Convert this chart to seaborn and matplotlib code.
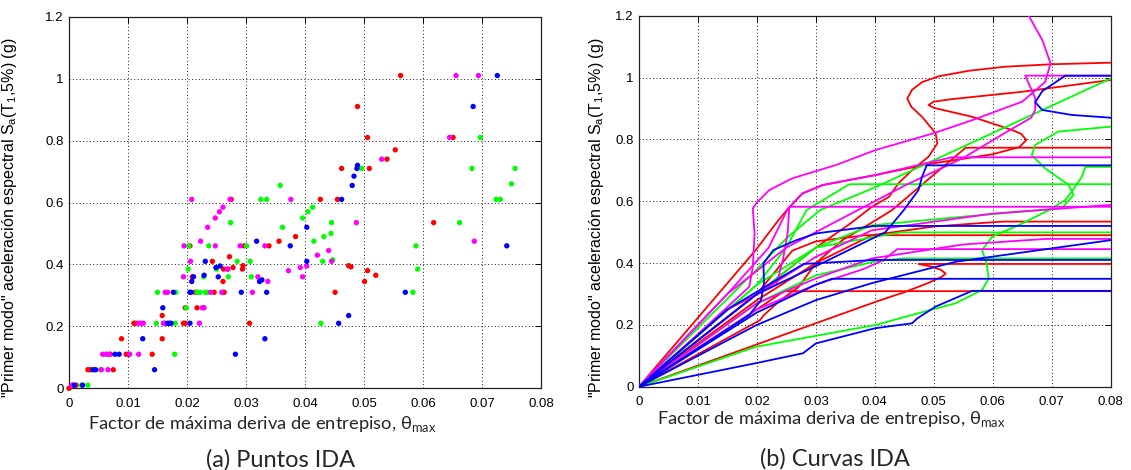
import numpy as np
import pandas as pd
import matplotlib
matplotlib.use("Agg")
import matplotlib.pyplot as plt
import seaborn as sns

# ---------------- data: (a) IDA points ----------------
red_pts_x = [0.0, 0.0007, 0.0012, 0.0032, 0.0036, 0.0075, 0.0070, 0.0097, 0.0101, 0.0141, 0.0089, 0.0158,
             0.0110, 0.0113, 0.0194, 0.0197, 0.0306, 0.0158, 0.0197, 0.0217, 0.0214, 0.0217, 0.0246, 0.0261,
             0.0263, 0.0451, 0.0261, 0.0501, 0.0209, 0.0520, 0.0262, 0.0269, 0.0278, 0.0294, 0.0506, 0.0295,
             0.0474, 0.0478, 0.0243, 0.0272, 0.0205, 0.0297, 0.0339, 0.0356, 0.0384, 0.0618, 0.0275, 0.0426,
             0.0455, 0.0462, 0.0509, 0.0539, 0.0553, 0.0506, 0.0651, 0.0489, 0.0562]
red_pts_y = [0.0, 0.01, 0.01, 0.06, 0.06, 0.06, 0.11, 0.11, 0.11, 0.11, 0.16, 0.16,
             0.21, 0.21, 0.21, 0.21, 0.21, 0.235, 0.26, 0.26, 0.31, 0.31, 0.31, 0.31,
             0.31, 0.31, 0.345, 0.345, 0.36, 0.365, 0.385, 0.385, 0.39, 0.385, 0.38, 0.396,
             0.396, 0.392, 0.41, 0.425, 0.46, 0.46, 0.46, 0.475, 0.49, 0.535, 0.61, 0.61,
             0.61, 0.71, 0.71, 0.74, 0.77, 0.81, 0.81, 0.91, 1.01]

blue_pts_x = [0.0009, 0.0023, 0.0041, 0.0045, 0.0145, 0.0078, 0.0085, 0.0282, 0.0125, 0.0332, 0.0167, 0.0170,
              0.0173, 0.0205, 0.0457, 0.0474, 0.0159, 0.0177, 0.0205, 0.0207, 0.0292, 0.0335, 0.0570, 0.0208,
              0.0323, 0.0211, 0.0253, 0.0327, 0.0229, 0.0249, 0.0256, 0.0231, 0.0403, 0.0375, 0.0742, 0.0318,
              0.0403, 0.0462, 0.0480, 0.0483, 0.0488, 0.0489, 0.0685, 0.0726]
blue_pts_y = [0.01, 0.01, 0.06, 0.06, 0.06, 0.11, 0.11, 0.11, 0.16, 0.16, 0.21, 0.21,
              0.21, 0.21, 0.21, 0.235, 0.26, 0.31, 0.31, 0.31, 0.31, 0.31, 0.31, 0.345,
              0.345, 0.36, 0.36, 0.35, 0.365, 0.39, 0.395, 0.41, 0.41, 0.46, 0.46, 0.475,
              0.52, 0.61, 0.655, 0.685, 0.71, 0.72, 0.91, 1.01]

green_pts_x = [0.0021, 0.0032, 0.0053, 0.0061, 0.0179, 0.0148, 0.0180, 0.0427, 0.0199, 0.0150, 0.0181, 0.0217,
               0.0222, 0.0231, 0.0235, 0.0583, 0.0228, 0.0270, 0.0309, 0.0202, 0.0250, 0.0591, 0.0285, 0.0307,
               0.0430, 0.0447, 0.0203, 0.0237, 0.0301, 0.0588, 0.0415, 0.0432, 0.0444, 0.0274, 0.0362, 0.0445,
               0.0662, 0.0396, 0.0405, 0.0413, 0.0325, 0.0335, 0.0724, 0.0731, 0.0358, 0.0750, 0.0496, 0.0683,
               0.0756, 0.0697]
green_pts_y = [0.01, 0.01, 0.06, 0.11, 0.11, 0.21, 0.21, 0.21, 0.26, 0.31, 0.31, 0.31,
               0.31, 0.31, 0.31, 0.31, 0.36, 0.36, 0.36, 0.385, 0.385, 0.385, 0.41, 0.41,
               0.41, 0.415, 0.46, 0.46, 0.46, 0.46, 0.475, 0.49, 0.50, 0.535, 0.52, 0.535,
               0.535, 0.55, 0.57, 0.585, 0.61, 0.61, 0.61, 0.61, 0.655, 0.66, 0.71, 0.71,
               0.71, 0.81]

magenta_pts_x = [0.0005, 0.0055, 0.0066, 0.0057, 0.0064, 0.0068, 0.0103, 0.0118, 0.0118, 0.0122, 0.0126, 0.0160,
                 0.0163, 0.0221, 0.0226, 0.0229, 0.0163, 0.0167, 0.0240, 0.0259, 0.0194, 0.0320, 0.0396, 0.0337,
                 0.0311, 0.0269, 0.0372, 0.0392, 0.0403, 0.0206, 0.0445, 0.0421, 0.0440, 0.0195, 0.0248, 0.0290,
                 0.0332, 0.0223, 0.0687, 0.0235, 0.0487, 0.0248, 0.0255, 0.0261, 0.0208, 0.0273, 0.0376, 0.0530,
                 0.0645, 0.0656, 0.0694]
magenta_pts_y = [0.01, 0.06, 0.06, 0.11, 0.11, 0.11, 0.11, 0.11, 0.21, 0.21, 0.21, 0.21,
                 0.21, 0.21, 0.26, 0.26, 0.31, 0.31, 0.31, 0.31, 0.36, 0.36, 0.36, 0.345,
                 0.31, 0.385, 0.38, 0.39, 0.395, 0.41, 0.41, 0.43, 0.445, 0.46, 0.46, 0.46,
                 0.46, 0.475, 0.475, 0.52, 0.535, 0.55, 0.57, 0.585, 0.61, 0.61, 0.61, 0.74,
                 0.81, 1.01, 1.01]

# ---------------- data: (b) IDA curves (x = theta_max, y = Sa) ----------------
red_curve_1 = [(0, 0), (0.0402, 0.275), (0.0452, 0.307), (0.049, 0.335), (0.0514, 0.356), (0.0520, 0.366),
               (0.0512, 0.378), (0.0497, 0.388), (0.0474, 0.397), (0.08, 0.397)]
red_curve_2 = [(0, 0), (0.0205, 0.215), (0.0212, 0.232), (0.0240, 0.280), (0.0271, 0.323), (0.030, 0.40),
               (0.0345, 0.474), (0.0402, 0.539), (0.0429, 0.571), (0.0554, 0.773), (0.08, 0.773)]
red_curve_3 = [(0, 0), (0.0198, 0.442), (0.0235, 0.535), (0.0252, 0.574), (0.0277, 0.625), (0.0311, 0.652),
               (0.0402, 0.685), (0.0491, 0.72), (0.060, 0.752), (0.0645, 0.775), (0.0657, 0.798),
               (0.0648, 0.818), (0.0633, 0.83), (0.0565, 0.873), (0.0500, 0.902), (0.0491, 0.911),
               (0.0500, 0.922), (0.0530, 0.930), (0.065, 0.954), (0.08, 0.992)]
red_curve_4 = [(0, 0), (0.020, 0.30), (0.030, 0.45), (0.036, 0.53), (0.0395, 0.582), (0.0424, 0.614),
               (0.044, 0.658), (0.0463, 0.70), (0.0491, 0.744), (0.0506, 0.787), (0.0503, 0.82), (0.048, 0.873),
               (0.0462, 0.905), (0.0455, 0.932), (0.0463, 0.96), (0.0480, 0.985), (0.0508, 1.004),
               (0.0560, 1.022), (0.0621, 1.035), (0.070, 1.043), (0.08, 1.048)]
red_curve_5 = [(0, 0), (0.020, 0.28), (0.030, 0.40), (0.0395, 0.49), (0.050, 0.518), (0.060, 0.532),
               (0.0618, 0.534), (0.08, 0.534)]
red_curve_6 = [(0, 0), (0.020, 0.30), (0.026, 0.44), (0.030, 0.47), (0.0384, 0.49), (0.08, 0.49)]
red_curve_7 = [(0, 0), (0.020, 0.25), (0.0246, 0.309), (0.08, 0.309)]

blue_curve_1 = [(0, 0), (0.0198, 0.076), (0.0278, 0.108), (0.030, 0.14), (0.040, 0.189), (0.0463, 0.205),
                (0.0472, 0.221), (0.0503, 0.259), (0.0565, 0.31), (0.08, 0.31)]
blue_curve_2 = [(0, 0), (0.020, 0.20), (0.030, 0.28), (0.0395, 0.335), (0.0537, 0.404), (0.08, 0.474),
                (0.095, 0.60), (0.090, 0.80), (0.08, 0.87), (0.0734, 0.879), (0.0684, 0.895), (0.0672, 0.92),
                (0.0684, 0.956), (0.0723, 1.006), (0.08, 1.006)]
blue_curve_3 = [(0, 0), (0.0187, 0.232), (0.0207, 0.28), (0.0212, 0.334), (0.0211, 0.399), (0.0228, 0.442),
                (0.0267, 0.474), (0.0301, 0.496), (0.040, 0.52), (0.08, 0.52)]
blue_curve_4 = [(0, 0), (0.015, 0.25), (0.022, 0.33), (0.0279, 0.397), (0.040, 0.41), (0.08, 0.41)]
blue_curve_5 = [(0, 0), (0.020, 0.24), (0.030, 0.33), (0.0327, 0.349), (0.08, 0.349)]
blue_curve_6 = [(0, 0), (0.020, 0.30), (0.030, 0.39), (0.0418, 0.50), (0.0449, 0.571), (0.0474, 0.636),
                (0.048, 0.679), (0.0488, 0.716), (0.08, 0.716)]

green_curve_1 = [(0, 0), (0.0198, 0.129), (0.0402, 0.20), (0.0463, 0.232), (0.0537, 0.27), (0.0582, 0.313),
                 (0.0593, 0.35), (0.059, 0.394), (0.0582, 0.442), (0.0599, 0.485), (0.065, 0.528), (0.0695, 0.571),
                 (0.0723, 0.604), (0.0734, 0.631), (0.0751, 0.679), (0.0757, 0.711), (0.08, 0.711)]
green_curve_2 = [(0, 0), (0.020, 0.38), (0.025, 0.48), (0.0307, 0.571), (0.0402, 0.646), (0.08, 0.997)]
green_curve_3 = [(0, 0), (0.020, 0.33), (0.030, 0.45), (0.0395, 0.522), (0.055, 0.55), (0.0717, 0.577),
                 (0.0737, 0.62), (0.0729, 0.652), (0.0689, 0.706), (0.0666, 0.749), (0.0672, 0.782),
                 (0.0711, 0.825), (0.08, 0.841)]
green_curve_4 = [(0, 0), (0.020, 0.30), (0.030, 0.45), (0.040, 0.485), (0.0444, 0.499), (0.08, 0.499)]
green_curve_5 = [(0, 0), (0.020, 0.27), (0.030, 0.36), (0.040, 0.405), (0.0447, 0.415), (0.08, 0.415)]
green_curve_6 = [(0, 0), (0.020, 0.33), (0.025, 0.45), (0.0284, 0.571), (0.0357, 0.655), (0.08, 0.655)]

magenta_curve_1 = [(0, 0), (0.015, 0.30), (0.022, 0.45), (0.0252, 0.574), (0.0277, 0.625), (0.0311, 0.652),
                   (0.0402, 0.685), (0.053, 0.742), (0.08, 0.742)]
magenta_curve_2 = [(0, 0), (0.010, 0.17), (0.0187, 0.323), (0.0193, 0.388), (0.0196, 0.496), (0.0193, 0.577),
                   (0.0201, 0.598), (0.0221, 0.636), (0.026, 0.674), (0.0334, 0.717), (0.0402, 0.766),
                   (0.050, 0.82), (0.0565, 0.862), (0.065, 0.922), (0.0689, 0.986), (0.0698, 1.046),
                   (0.0684, 1.121), (0.0661, 1.20)]
magenta_curve_3 = [(0, 0), (0.015, 0.30), (0.025, 0.45), (0.035, 0.55), (0.045, 0.65), (0.055, 0.74),
                   (0.062, 0.82), (0.0665, 0.87), (0.0672, 0.895), (0.0672, 0.933), (0.0655, 1.006), (0.08, 1.006)]
magenta_curve_4 = [(0, 0), (0.020, 0.30), (0.030, 0.42), (0.0395, 0.506), (0.060, 0.56), (0.08, 0.588)]
magenta_curve_5 = [(0, 0), (0.020, 0.27), (0.030, 0.35), (0.0395, 0.415), (0.055, 0.46), (0.069, 0.478), (0.08, 0.478)]
magenta_curve_6 = [(0, 0), (0.020, 0.25), (0.030, 0.33), (0.038, 0.38), (0.0415, 0.41), (0.0438, 0.445), (0.08, 0.445)]
magenta_curve_7 = [(0, 0), (0.015, 0.25), (0.0233, 0.33), (0.0244, 0.41), (0.0252, 0.496), (0.0255, 0.582), (0.08, 0.582)]

x_ticks = [0, 0.01, 0.02, 0.03, 0.04, 0.05, 0.06, 0.07, 0.08]
x_tick_labels = ["0", "0.01", "0.02", "0.03", "0.04", "0.05", "0.06", "0.07", "0.08"]
y_ticks = [0, 0.2, 0.4, 0.6, 0.8, 1.0, 1.2]
y_tick_labels = ["0", "0.2", "0.4", "0.6", "0.8", "1", "1.2"]

ylabel_text = '"Primer modo" aceleración espectral S$_\\mathregular{a}$(T$_\\mathregular{1}$,5%) (g)'
xlabel_text = 'Factor de máxima deriva de entrepiso, $\\mathregular{\\theta}_{\\mathregular{max}}$'
captions = ["(a) Puntos IDA", "(b) Curvas IDA"]

RED, BLUE, GREEN, MAGENTA = "#ff0000", "#0000ff", "#00ff00", "#ff00ff"

# ---------------- style ----------------
sns.set_theme(style="white")
plt.rcParams["font.family"] = ["Liberation Sans", "DejaVu Sans"]
plt.rcParams["mathtext.fontset"] = "custom"
plt.rcParams["mathtext.rm"] = "Liberation Sans"
plt.rcParams["mathtext.it"] = "Liberation Sans:italic"
plt.rcParams["mathtext.bf"] = "Liberation Sans:bold"

W, H = 1131, 470
fig = plt.figure(figsize=(W / 100, H / 100), dpi=100)
fig.patch.set_facecolor("white")

ax1 = fig.add_axes([69 / W, 1 - 388.3 / H, 472 / W, 371.6 / H])
ax2 = fig.add_axes([639 / W, 1 - 386.7 / H, 471.7 / W, 371 / H])


def style_axes(ax, label_x, label_y):
    ax.set_xlim(0, 0.08)
    ax.set_ylim(0, 1.2)
    ax.set_xticks(x_ticks)
    ax.set_xticklabels(x_tick_labels)
    ax.set_yticks(y_ticks)
    ax.set_yticklabels(y_tick_labels)
    ax.tick_params(axis="both", which="both", direction="in", length=4, width=0.7,
                   top=True, right=True, labelsize=9.5, colors="black")
    ax.tick_params(axis="x", pad=7)
    ax.tick_params(axis="y", pad=4)
    ax.grid(True, color="black", linestyle=(0, (1, 2.5)), linewidth=0.7, alpha=0.9)
    for sp in ax.spines.values():
        sp.set_color("#222222")
        sp.set_linewidth(0.9)
    ax.set_xlabel("")
    ax.set_ylabel(ylabel_text, fontsize=11.5, color="black")
    ax.yaxis.set_label_coords(label_x, label_y)


# (a) scatter points
for xs, ys, c in [(red_pts_x, red_pts_y, RED), (green_pts_x, green_pts_y, GREEN),
                  (magenta_pts_x, magenta_pts_y, MAGENTA), (blue_pts_x, blue_pts_y, BLUE)]:
    sns.scatterplot(x=xs, y=ys, color=c, s=15, edgecolor="none", linewidth=0, ax=ax1, zorder=3, clip_on=False)
style_axes(ax1, (19 - 69) / 472, (388.3 - 218) / 371.6)

# (b) curves
curve_sets = [
    (RED, [red_curve_1, red_curve_2, red_curve_3, red_curve_4, red_curve_5, red_curve_6, red_curve_7]),
    (GREEN, [green_curve_1, green_curve_2, green_curve_3, green_curve_4, green_curve_5, green_curve_6]),
    (MAGENTA, [magenta_curve_1, magenta_curve_2, magenta_curve_3, magenta_curve_4, magenta_curve_5,
               magenta_curve_6, magenta_curve_7]),
    (BLUE, [blue_curve_1, blue_curve_2, blue_curve_3, blue_curve_4, blue_curve_5, blue_curve_6]),
]
for c, curves in curve_sets:
    for cv in curves:
        df = pd.DataFrame(cv, columns=["theta", "sa"])
        sns.lineplot(data=df, x="theta", y="sa", sort=False, estimator=None, color=c,
                     linewidth=1.3, ax=ax2, zorder=3)
style_axes(ax2, (606 - 639) / 471.7, (386.7 - 218) / 371)

# x labels and captions
fig.text(262 / W, 1 - 424 / H, xlabel_text, ha="center", va="center", fontsize=13.2,
         family=["Lato", "DejaVu Sans"])
fig.text(831 / W, 1 - 419 / H, xlabel_text, ha="center", va="center", fontsize=13.2,
         family=["Lato", "DejaVu Sans"])
fig.text(281 / W, 1 - 460 / H, captions[0], ha="center", va="center", fontsize=17,
         family=["Lato", "DejaVu Sans"])
fig.text(835 / W, 1 - 459 / H, captions[1], ha="center", va="center", fontsize=17,
         family=["Lato", "DejaVu Sans"])

fig.savefig("out.png", dpi=100, facecolor="white")
